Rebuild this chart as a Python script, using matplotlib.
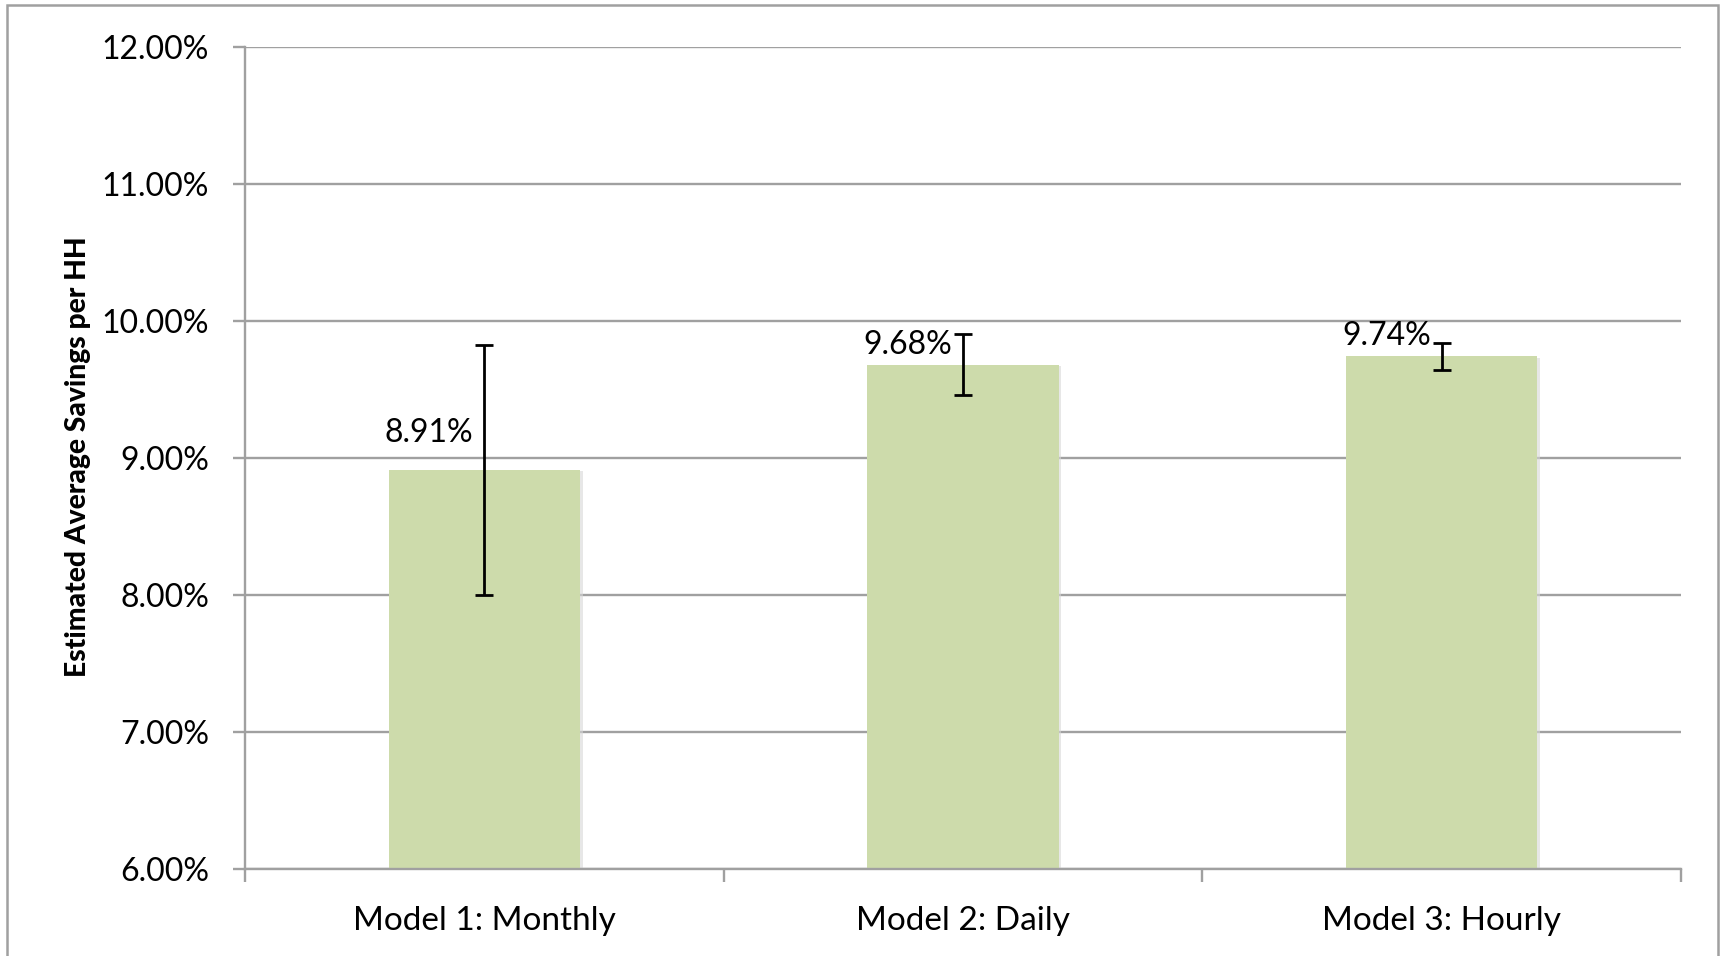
import matplotlib
matplotlib.use('Agg')
import matplotlib.pyplot as plt
import matplotlib.patheffects as pe
from matplotlib.patches import Rectangle
import numpy as np

# dados
modelos = ['Model 1: Monthly', 'Model 2: Daily', 'Model 3: Hourly']
economia = [8.91, 9.68, 9.74]
erro = [0.91, 0.22, 0.10]
rotulos = ['8.91%', '9.68%', '9.74%']
yticks = [6, 7, 8, 9, 10, 11, 12]

# deslocamento vertical dos rotulos (pixels acima do topo da barra)
desloc_rotulo = [28, 11, 11]

plt.rcParams['font.family'] = ['Lato', 'DejaVu Sans']

cinza = '#a0a0a0'
verde = '#cddbab'

fig = plt.figure(figsize=(17.23, 9.56), dpi=100)
ax = fig.add_axes([0.1422, 0.0915, 0.9756 - 0.1422, 0.9511 - 0.0915])

x = np.arange(len(modelos))
sombra = [pe.SimplePatchShadow(offset=(2, -1), shadow_rgbFace='#d8d8d8', alpha=0.6), pe.Normal()]
barras = ax.bar(x, economia, width=0.4, color=verde, zorder=2, path_effects=sombra)
ax.errorbar(x, economia, yerr=erro, fmt='none', ecolor='black', elinewidth=2,
            capsize=6.5, capthick=2, zorder=3)

for i in range(len(x)):
    ax.annotate(rotulos[i], xy=(x[i] - 0.115, economia[i]), xytext=(0, desloc_rotulo[i] * 0.72),
                textcoords='offset points', ha='center', va='baseline', fontsize=23, zorder=4)

ax.set_ylim(6, 12)
ax.set_xlim(-0.5, len(modelos) - 0.5)
ax.set_yticks(yticks)
ax.set_yticklabels(['%.2f%%' % v for v in yticks], fontsize=23)
ax.yaxis.grid(True, color=cinza, linewidth=1.7, zorder=0)
ax.set_axisbelow(True)

ax.set_xticks(x)
ax.set_xticklabels(modelos, fontsize=24)
ax.set_xticks(np.arange(-0.5, len(modelos), 1.0), minor=True)
ax.tick_params(axis='x', which='major', length=0, pad=27)
ax.tick_params(axis='x', which='minor', length=9, width=1.7, color=cinza, direction='out')
ax.tick_params(axis='y', length=9, width=1.7, color=cinza, direction='out', pad=17)

for lado in ['top', 'right']:
    ax.spines[lado].set_visible(False)
for lado in ['left', 'bottom']:
    ax.spines[lado].set_color(cinza)
    ax.spines[lado].set_linewidth(1.7)

fig.text(78 / 1723, 1 - 457 / 956, 'Estimated Average Savings per HH', rotation=90,
         ha='center', va='center', fontsize=20.3, fontweight='black')

# moldura do grafico (cortada em baixo)
fig.patches.append(Rectangle((7 / 1723, -0.05), (1718 - 7) / 1723, 1.05 - 5 / 956,
                             transform=fig.transFigure, fill=False, edgecolor='#a0a0a0', linewidth=1.8))

fig.savefig('out.png', dpi=100)
